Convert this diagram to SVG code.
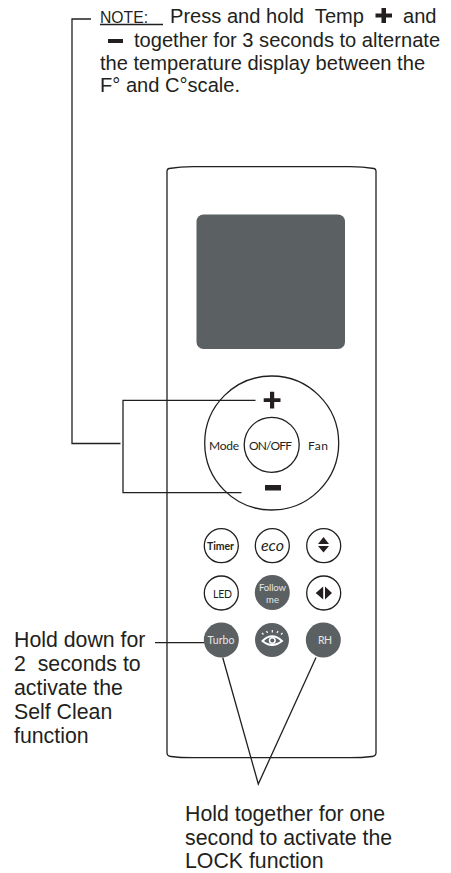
<svg xmlns="http://www.w3.org/2000/svg" width="451" height="873" viewBox="0 0 451 873">
<style>
.t{font-family:"Liberation Sans",Arial,sans-serif;font-size:21.300px;fill:#231f20}
.n{font-size:20.100px}
.b{font-family:Lato,"Noto Sans",sans-serif;fill:#231f20;font-size:11px}
.w{fill:#e6e7e8;font-size:10px}
.o{fill:#fff;stroke:#231f20;stroke-width:1.3}
.d{fill:#5b6062}
.l{fill:none;stroke:#231f20;stroke-width:1.3}
.k{fill:#231f20}
</style>
<rect width="451" height="873" fill="#fff"/>
<g id="remote"><path class="l" d="M167 171Q167 169 169 168.500Q180 167 193 166.700H350Q363 167 374 168.500Q376 169 376 171V753Q376 756 372 756.500Q362 757.700 350 757.700H193Q180 757.700 171 756.500Q167 756 167 753Z"/></g>
<g id="screen"><rect x="196.500" y="214.500" width="148.500" height="134.500" rx="7" class="d"/></g>
<g id="connectors">
<path class="l" d="M91 19H72V443.500H120.500"/>
<path class="l" d="M255.500 400.300H123V492.700H241.500"/>
<path class="l" d="M155 642.700H204"/>
<path class="l" d="M222.700 657.500L258.300 784L316 657.500"/>
<path class="l" d="M100 24.500H163"/>
</g>
<g id="dpad">
<circle class="l" cx="271.700" cy="443" r="67"/>
<circle class="l" cx="271.700" cy="444.800" r="27.500"/>
<path class="k" d="M270 391.700h4.200v6.500h6.300v3.800h-6.300v6.400h-4.200v-6.400h-6.300v-3.800h6.300z"/>
<rect class="k" x="265" y="485" width="16" height="5.500"/>
<text class="b" x="209" y="449.500" textLength="30" style="font-size:12px">Mode</text>
<text class="b" x="249" y="449.500" textLength="43" style="font-size:12px">ON/OFF</text>
<text class="b" x="308" y="449.500" textLength="20" style="font-size:12px">Fan</text>
</g>
<g id="timer"><circle class="o" cx="221.300" cy="545.700" r="17"/><text class="b" x="207" y="549.500" textLength="27" style="font-weight:700;font-size:10.500px">Timer</text></g>
<g id="eco"><circle class="o" cx="272.300" cy="545.700" r="17"/><text class="b" x="261" y="550.500" textLength="23" lengthAdjust="spacingAndGlyphs" style="font-size:15px;font-style:italic">eco</text></g>
<g id="updown"><circle class="o" cx="323.700" cy="545.700" r="17"/><path class="k" d="M323.500 537l5.500 7h-11zM323.500 552.500l5.500-6.500h-11z"/></g>
<g id="led"><circle class="o" cx="221.300" cy="593" r="17"/><text class="b" x="213" y="597.500" textLength="19" style="font-size:10.500px">LED</text></g>
<g id="follow"><circle class="d" cx="272.300" cy="592.500" r="17.500"/><text class="b w" x="259" y="591" textLength="27" style="font-size:9.500px">Follow</text><text class="b w" x="266" y="602.700" textLength="13" style="font-size:9.500px">me</text></g>
<g id="leftright"><circle class="o" cx="323.700" cy="593" r="17"/><path class="k" d="M315.700 593l7.500-6.500v13zM332 593l-7-6.500v13z"/></g>
<g id="turbo"><circle class="d" cx="221.300" cy="640" r="17.500"/><text class="b w" x="207.500" y="644" textLength="27" style="font-size:10.500px">Turbo</text></g>
<g id="eye"><circle class="d" cx="272" cy="640" r="17"/><path d="M262.500 641Q272 631.500 282 641Q272 649 262.500 641Z" fill="none" stroke="#fff" stroke-width="2"/><circle cx="272.300" cy="640.500" r="2.800" fill="none" stroke="#fff" stroke-width="1.500"/><path d="M263.500 634.500l-1.500-1.500M267.500 633l-1-2M272.300 632.500v-2.500M277 633l1-2M281 634.500l1.500-1.500" stroke="#fff" fill="none" stroke-width="1.200"/></g>
<g id="rh"><circle class="d" cx="323.300" cy="640" r="17.500"/><text class="b w" x="318" y="644" textLength="14" style="font-size:10.500px">RH</text></g>
<g id="note">
<text class="t" x="100" y="22.700" textLength="48" lengthAdjust="spacingAndGlyphs" style="font-size:17px">NOTE:</text>
<text class="t n" x="170" y="23">Press and hold&#160; Temp</text>
<path class="k" d="M381.500 8h4.500v5.500h6v4h-6v5.500h-4.500v-5.500h-6v-4h6z"/>
<text class="t n" x="403" y="23">and</text>
<rect class="k" x="108" y="39" width="15" height="4"/>
<text class="t n" x="134" y="47">together for 3 seconds to alternate</text>
<text class="t n" x="100" y="69.500">the temperature display between the</text>
<text class="t n" x="100" y="92">F° and C°scale.</text>
</g>
<g id="self-clean"><text class="t" x="14" y="647">Hold down for</text><text class="t" x="14" y="671">2&#160; seconds to</text><text class="t" x="14" y="695">activate the</text><text class="t" x="14" y="719">Self Clean</text><text class="t" x="14" y="743">function</text></g>
<g id="lock"><text class="t" x="185" y="821">Hold together for one</text><text class="t" x="185" y="844.500">second to activate the</text><text class="t" x="185" y="868">LOCK function</text></g>
</svg>
